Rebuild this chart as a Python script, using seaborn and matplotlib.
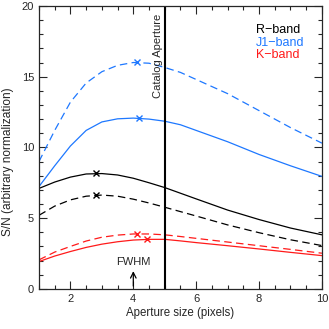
import numpy as np
import pandas as pd
import matplotlib
matplotlib.use('Agg')
import matplotlib.pyplot as plt
import seaborn as sns
from matplotlib.ticker import MultipleLocator

# values
aperture = [1, 1.5, 2, 2.5, 3, 3.5, 4, 4.5, 5, 5.5, 6, 7, 8, 9, 10]
j1_dash = [9.0, 11.2, 13.2, 14.55, 15.35, 15.8, 16.0, 15.95, 15.65, 15.3, 14.8, 13.8, 12.6, 11.4, 10.3]
j1_solid = [7.23, 8.7, 10.1, 11.2, 11.8, 12.02, 12.07, 12.0, 11.85, 11.6, 11.2, 10.4, 9.5, 8.7, 7.95]
r_solid = [7.1, 7.55, 7.9, 8.12, 8.15, 8.05, 7.82, 7.5, 7.16, 6.76, 6.36, 5.57, 4.9, 4.3, 3.82]
r_dash = [5.2, 5.85, 6.29, 6.55, 6.63, 6.55, 6.34, 6.07, 5.77, 5.46, 5.15, 4.52, 3.97, 3.47, 3.06]
k_dash = [2.05, 2.6, 3.0, 3.38, 3.65, 3.8, 3.88, 3.88, 3.82, 3.7, 3.57, 3.31, 3.05, 2.79, 2.52]
k_solid = [1.93, 2.32, 2.64, 2.93, 3.16, 3.33, 3.45, 3.5, 3.5, 3.39, 3.27, 3.05, 2.82, 2.58, 2.35]

# peak markers (same order as series below)
peaks_x = [4.12, 4.18, 2.8, 2.8, 4.11, 4.42]
peaks_y = [16.05, 12.07, 8.17, 6.64, 3.89, 3.51]

blue = '#1e78ff'
red = '#ff1a1a'

sns.set_style('ticks')
plt.rcParams['font.family'] = ['Liberation Sans', 'DejaVu Sans']

fig = plt.figure(figsize=(3.29, 3.29), dpi=100)
ax = fig.add_axes([0.1185, 0.122, 0.86, 0.86])

dash = (0, (6, 3.5))
series = [
    (j1_dash, blue, dash),
    (j1_solid, blue, '-'),
    (r_solid, 'black', '-'),
    (r_dash, 'black', dash),
    (k_dash, red, dash),
    (k_solid, red, '-'),
]
for (vals, col, ls), px, py in zip(series, peaks_x, peaks_y):
    sns.lineplot(x=aperture, y=vals, color=col, linestyle=ls, lw=0.9, ax=ax)
    ax.plot([px], [py], marker='x', color=col, ms=4, mew=1.0)

ax.axvline(5, color='black', lw=1.5)
ax.text(4.8, 16.5, 'Catalog Aperture', rotation=90, ha='center', va='center', fontsize=8)
ax.annotate('', xy=(4, 1.45), xytext=(4, 0), arrowprops=dict(arrowstyle='->', color='black', lw=0.9))
ax.text(4, 1.9, 'FWHM', ha='center', va='center', fontsize=8)

ax.text(7.9, 18.3, 'R\u2212band', color='black', fontsize=9, va='center')
ax.text(7.9, 17.4, 'J1\u2212band', color=blue, fontsize=9, va='center')
ax.text(7.9, 16.5, 'K\u2212band', color=red, fontsize=9, va='center')

ax.set_xlim(1, 10)
ax.set_ylim(0, 20)
ax.xaxis.set_major_locator(MultipleLocator(2))
ax.xaxis.set_minor_locator(MultipleLocator(0.5))
ax.yaxis.set_major_locator(MultipleLocator(5))
ax.yaxis.set_minor_locator(MultipleLocator(1))
ax.tick_params(which='both', direction='in', top=True, right=True, labelsize=8, width=0.8)
ax.tick_params(which='major', length=6)
ax.tick_params(which='minor', length=3)
for s in ax.spines.values():
    s.set_linewidth(0.9)
ax.set_xlabel('Aperture size (pixels)', fontsize=8.3, labelpad=2)
ax.set_ylabel('S/N (arbitrary normalization)', fontsize=8.6)
ax.yaxis.set_label_coords(-0.088, 0.45)

fig.savefig('out.png', dpi=100)
